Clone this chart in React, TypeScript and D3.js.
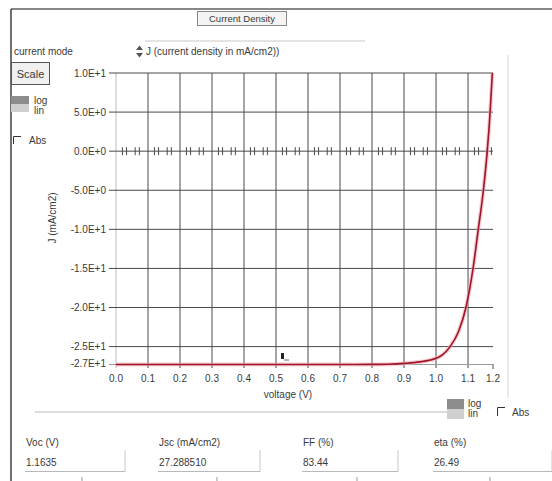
import React from 'react';
import * as d3 from 'd3';

// J-V curve (V in volts, J in mA/cm2)
const voltage = [0, 0.1, 0.2, 0.3, 0.4, 0.5, 0.6, 0.7, 0.8, 0.85, 0.9, 0.95, 1.0, 1.02, 1.044, 1.07, 1.094, 1.115, 1.132, 1.148, 1.16, 1.169, 1.176];
const current = [-27.29, -27.29, -27.29, -27.29, -27.29, -27.29, -27.29, -27.29, -27.28, -27.25, -27.15, -26.95, -26.5, -26.05, -25.0, -23.1, -19.9, -15.2, -10.0, -5.0, 0.0, 5.0, 10.0];

const xTicks = [0, 0.1, 0.2, 0.3, 0.4, 0.5, 0.6, 0.7, 0.8, 0.9, 1.0, 1.1];
const xTickLabels = ['0.0', '0.1', '0.2', '0.3', '0.4', '0.5', '0.6', '0.7', '0.8', '0.9', '1.0', '1.1'];
const xMax = 1.178;
const xMaxLabel = '1.2';
const yTicks = [10, 5, 0, -5, -10, -15, -20, -25];
const yMin = -27.29;

const resultLabels = ['Voc (V)', 'Jsc (mA/cm2)', 'FF  (%)', 'eta (%)'];
const resultValues = ['1.1635', '27.288510', '83.44', '26.49'];

const font = '"Liberation Sans", Arial, sans-serif';
const textColor = '#3a3a3a';

const App: React.FC = () => {
    const x = d3.scaleLinear().domain([0, xMax]).range([116, 493]);
    const y = d3.scaleLinear().domain([yMin, 10]).range([364.5, 73]);
    // plain hyphen minus, like the original labels
    const fmt = (v: number) => d3.format('.1e')(v).toUpperCase().replace('\u2212', '-');

    const pts: [number, number][] = voltage.map((v, i) => [v, current[i]]);
    const line = d3.line<[number, number]>()
        .x(d => x(d[0]))
        .y(d => y(d[1]))
        .curve(d3.curveMonotoneX);
    const path = line(pts) || '';

    // minor ticks along the zero line
    const minorFrac = [0.2, 0.33, 0.6, 0.73];
    const minor: number[] = [];
    for (let k = 0; k < 12; k++) {
        minorFrac.forEach(f => minor.push(k * 0.1 + f * 0.1));
    }

    const fieldX = [25, 158, 302, 433];
    const fieldW = [100, 102, 96, 119];
    const fieldTick = [82, 217, 357, 490];

    return (
        <div style={{ position: 'fixed', left: 0, top: 0 }}>
            <svg width={552} height={481} style={{ display: 'block', background: '#fff' }} fontFamily={font}>
                {/* panel frame */}
                <line x1={11} y1={9} x2={552} y2={9} stroke="#111" strokeWidth={1.2} />
                <line x1={11} y1={9} x2={11} y2={481} stroke="#111" strokeWidth={1.2} />

                {/* Current Density button */}
                <rect x={197.5} y={11.5} width={89} height={14} fill="#f4f4f4" stroke="#888" />
                <text x={242} y={22} fontSize={9.5} fill={textColor} textAnchor="middle">Current Density</text>

                {/* current mode */}
                <text x={14} y={55} fontSize={10} fill={textColor}>current mode</text>
                <line x1={145} y1={41} x2={365} y2={41} stroke="#c8c8c8" />
                <path d="M136,50 L139.5,45.5 L143,50 Z" fill="#555" />
                <path d="M136,53 L139.5,57.5 L143,53 Z" fill="#555" />
                <text x={146} y={55} fontSize={10} fill={textColor}>J (current density in mA/cm2))</text>

                {/* Scale button */}
                <rect x={11.5} y={62.5} width={38} height={22} fill="#f0f0f0" stroke="#555" />
                <text x={30.5} y={78} fontSize={11} fill={textColor} textAnchor="middle">Scale</text>

                {/* log/lin left */}
                <rect x={11} y={96} width={18} height={8} fill="#8c8c8c" />
                <rect x={11} y={104} width={18} height={8} fill="#cfcfcf" />
                <text x={34} y={104} fontSize={10} fill={textColor}>log</text>
                <text x={34} y={114} fontSize={10} fill={textColor}>lin</text>

                {/* Abs checkbox */}
                <path d="M13.5,144 L13.5,136.5 L21,136.5" fill="none" stroke="#333" />
                <text x={29} y={144} fontSize={10} fill={textColor}>Abs</text>

                {/* right frame line */}
                <line x1={508} y1={55} x2={508} y2={398} stroke="#d6d6d6" />

                {/* vertical grid */}
                {xTicks.map((t, i) => (
                    <line key={'vx' + i} x1={x(t)} x2={x(t)} y1={73} y2={368}
                        stroke={i === 0 ? '#bdbdbd' : '#4a4a4a'} strokeWidth={1} />
                ))}
                <line x1={x(xMax)} x2={x(xMax)} y1={364} y2={369} stroke="#4a4a4a" />

                {/* horizontal grid */}
                {yTicks.map((t, i) => (
                    <g key={'hy' + i}>
                        <line x1={109} x2={493} y1={y(t)} y2={y(t)} stroke="#4a4a4a" strokeWidth={1} />
                        <text x={106} y={y(t) + 3.5} fontSize={10} fill={textColor} textAnchor="end">{fmt(t)}</text>
                    </g>
                ))}
                <line x1={109} x2={493} y1={y(yMin)} y2={y(yMin)} stroke="#9a9a9a" />
                <text x={106} y={y(yMin) + 2} fontSize={10} fill={textColor} textAnchor="end">{fmt(yMin)}</text>

                {/* minor ticks on zero line */}
                {minor.map((m, i) => (
                    <line key={'mt' + i} x1={x(m)} x2={x(m)} y1={y(0) - 4} y2={y(0) + 4} stroke="#4a4a4a" />
                ))}

                {/* x tick labels */}
                {xTicks.map((t, i) => (
                    <text key={'xl' + i} x={x(t)} y={382} fontSize={10} fill={textColor} textAnchor="middle">{xTickLabels[i]}</text>
                ))}
                <text x={x(xMax)} y={382} fontSize={10} fill={textColor} textAnchor="middle">{xMaxLabel}</text>

                {/* axis titles */}
                <text x={288} y={398} fontSize={10} fill={textColor} textAnchor="middle">voltage (V)</text>
                <text transform="translate(56,218) rotate(-90)" fontSize={10} fill={textColor} textAnchor="middle">J (mA/cm2)</text>

                {/* curve */}
                <path d={path} fill="none" stroke="#efa9b1" strokeWidth={4} strokeOpacity={0.6} />
                <path d={path} fill="none" stroke="#9e1428" strokeWidth={1.6} />

                {/* cursor marker */}
                <rect x={281} y={353} width={3} height={6} fill="#222" />
                <line x1={284} x2={289} y1={360} y2={360} stroke="#666" />

                {/* separator */}
                <line x1={35} y1={412} x2={447} y2={412} stroke="#b8b8b8" />

                {/* log/lin right */}
                <rect x={447} y={399} width={17} height={10} fill="#8c8c8c" />
                <rect x={447} y={409} width={17} height={10} fill="#cfcfcf" />
                <text x={468} y={407} fontSize={10} fill={textColor}>log</text>
                <text x={468} y={417} fontSize={10} fill={textColor}>lin</text>
                <path d="M497.5,416 L497.5,407.5 L505,407.5" fill="none" stroke="#333" />
                <text x={512} y={416} fontSize={10} fill={textColor}>Abs</text>

                {/* result fields */}
                {resultLabels.map((lab, i) => (
                    <g key={'rf' + i}>
                        <text x={fieldX[i] + 1} y={446} fontSize={10} fill={textColor}>{lab}</text>
                        <text x={fieldX[i] + 1} y={466} fontSize={10} fill={textColor}>{resultValues[i]}</text>
                        <line x1={fieldX[i]} x2={fieldX[i] + fieldW[i]} y1={471.5} y2={471.5} stroke="#b8b8b8" />
                        <line x1={fieldX[i] + fieldW[i]} x2={fieldX[i] + fieldW[i]} y1={450} y2={472} stroke="#c8c8c8" />
                        <line x1={fieldTick[i]} x2={fieldTick[i]} y1={477} y2={481} stroke="#999" />
                    </g>
                ))}
            </svg>
        </div>
    );
};

export default App;
